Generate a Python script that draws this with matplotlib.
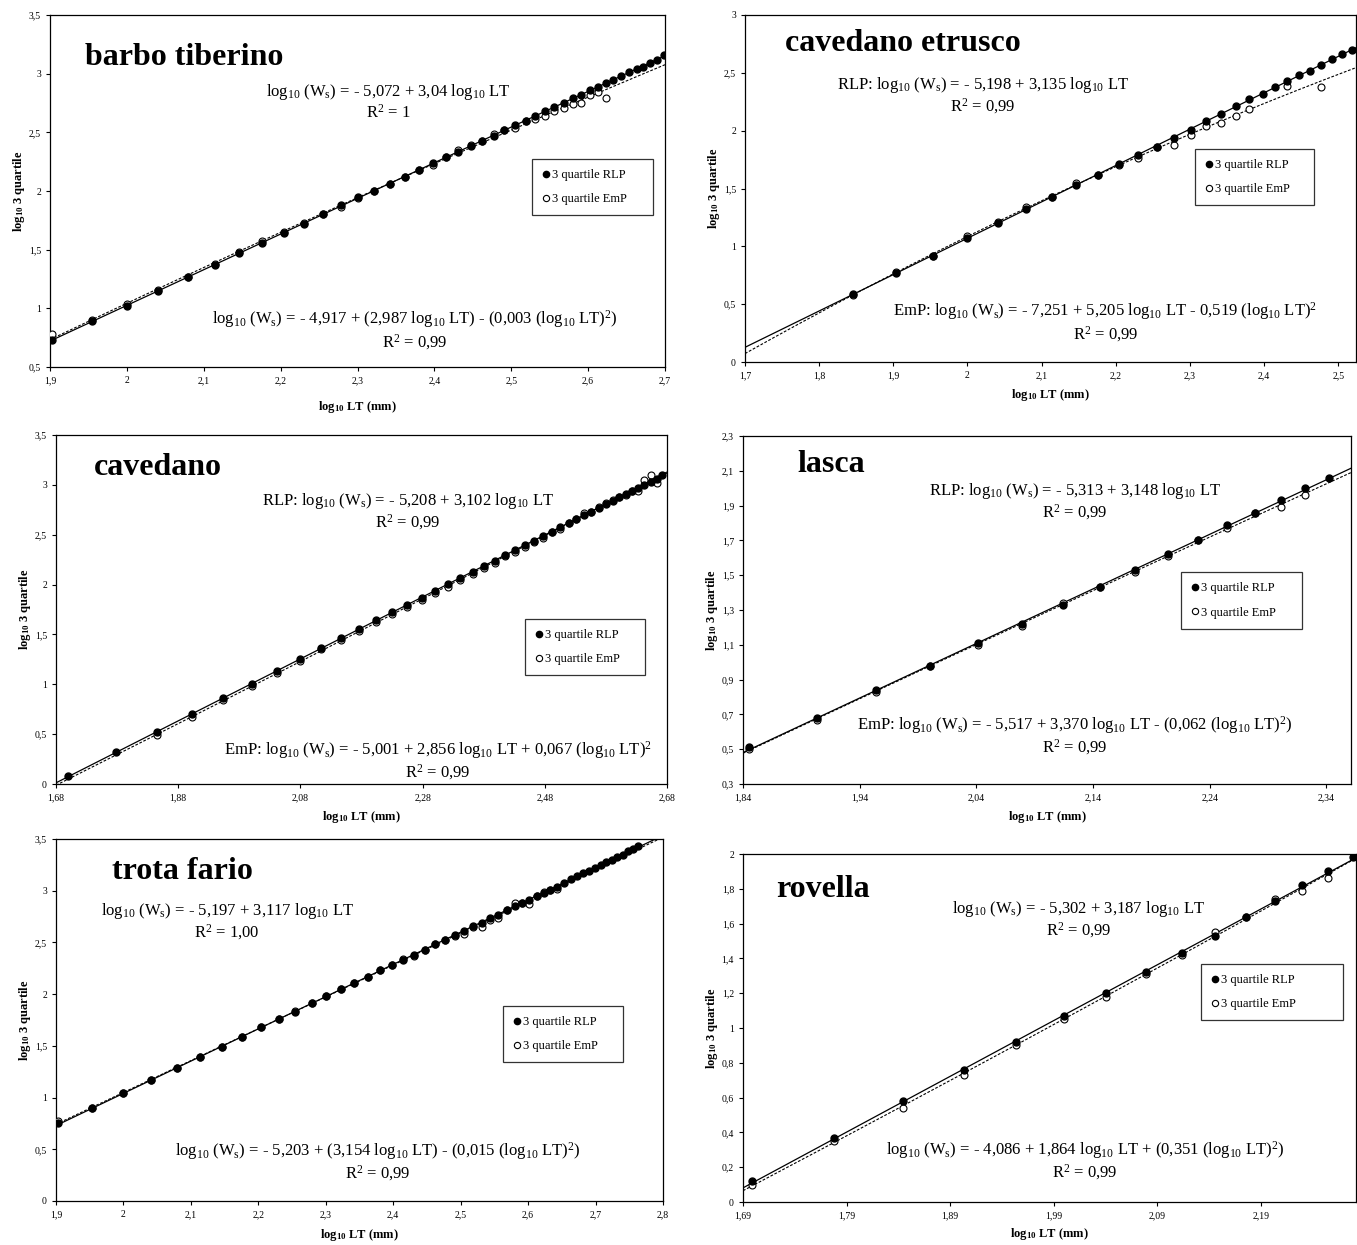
import numpy as np
import matplotlib
matplotlib.use('Agg')
import matplotlib.pyplot as plt

plt.rcParams['font.family'] = 'Liberation Serif'
plt.rcParams['mathtext.fontset'] = 'custom'
plt.rcParams['mathtext.rm'] = 'Liberation Serif'
plt.rcParams['mathtext.it'] = 'Liberation Serif:italic'
plt.rcParams['mathtext.bf'] = 'Liberation Serif:bold'

# ---- data (log10 LT, log10 3rd quartile) ----
# barbo tiberino
barbo_lt_rlp = [1.903, 1.954, 2.000, 2.041, 2.079, 2.114, 2.146, 2.176, 2.204, 2.230,
                2.255, 2.279, 2.301, 2.322, 2.342, 2.362, 2.380, 2.398, 2.415, 2.431,
                2.447, 2.462, 2.477, 2.491, 2.505, 2.519, 2.531, 2.544, 2.556, 2.568,
                2.580, 2.591, 2.602, 2.613, 2.623, 2.633, 2.643, 2.653, 2.663, 2.672,
                2.681, 2.690, 2.699]
barbo_rlp = [0.73, 0.89, 1.02, 1.15, 1.27, 1.37, 1.47, 1.56, 1.64, 1.72,
             1.80, 1.88, 1.95, 2.00, 2.06, 2.12, 2.18, 2.24, 2.29, 2.33,
             2.38, 2.43, 2.47, 2.52, 2.56, 2.60, 2.64, 2.68, 2.72, 2.75,
             2.79, 2.82, 2.86, 2.89, 2.92, 2.95, 2.98, 3.01, 3.04, 3.06,
             3.09, 3.12, 3.16]
barbo_lt_emp = barbo_lt_rlp[:35]
barbo_emp = [0.78, 0.90, 1.04, 1.16, 1.27, 1.38, 1.48, 1.57, 1.65, 1.73,
             1.80, 1.86, 1.94, 2.00, 2.06, 2.12, 2.18, 2.22, 2.29, 2.35,
             2.39, 2.43, 2.49, 2.52, 2.54, 2.60, 2.61, 2.64, 2.68, 2.71,
             2.74, 2.75, 2.82, 2.84, 2.79]

# cavedano etrusco
etr_lt_rlp = [1.845, 1.903, 1.954, 2.000, 2.041, 2.079, 2.114, 2.146, 2.176, 2.204,
              2.230, 2.255, 2.279, 2.301, 2.322, 2.342, 2.362, 2.380, 2.398, 2.415,
              2.431, 2.447, 2.462, 2.477, 2.491, 2.505, 2.519]
etr_rlp = [0.59, 0.77, 0.92, 1.07, 1.20, 1.32, 1.43, 1.53, 1.62, 1.71,
           1.79, 1.86, 1.94, 2.01, 2.08, 2.14, 2.21, 2.27, 2.32, 2.38,
           2.43, 2.48, 2.52, 2.57, 2.62, 2.66, 2.70]
etr_lt_emp = [1.845, 1.903, 1.954, 2.000, 2.041, 2.079, 2.114, 2.146, 2.176, 2.204,
              2.230, 2.255, 2.279, 2.301, 2.322, 2.342, 2.362, 2.380, 2.431, 2.477]
etr_emp = [0.58, 0.78, 0.92, 1.09, 1.21, 1.34, 1.43, 1.55, 1.62, 1.70,
           1.76, 1.86, 1.88, 1.96, 2.04, 2.07, 2.13, 2.19, 2.39, 2.38]

# cavedano
cav_lt_rlp = [1.699, 1.778, 1.845, 1.903, 1.954, 2.000, 2.041, 2.079, 2.114, 2.146,
              2.176, 2.204, 2.230, 2.255, 2.279, 2.301, 2.322, 2.342, 2.362, 2.380,
              2.398, 2.415, 2.431, 2.447, 2.462, 2.477, 2.491, 2.505, 2.519, 2.531,
              2.544, 2.556, 2.568, 2.580, 2.591, 2.602, 2.613, 2.623, 2.633, 2.643,
              2.653, 2.663, 2.672]
cav_rlp = [0.08, 0.32, 0.52, 0.70, 0.86, 1.00, 1.13, 1.25, 1.36, 1.46,
           1.55, 1.64, 1.72, 1.80, 1.87, 1.94, 2.01, 2.07, 2.13, 2.19,
           2.24, 2.30, 2.35, 2.40, 2.44, 2.49, 2.53, 2.58, 2.62, 2.66,
           2.70, 2.73, 2.77, 2.81, 2.84, 2.88, 2.91, 2.94, 2.97, 3.00,
           3.03, 3.06, 3.10]
cav_lt_emp = cav_lt_rlp[2:42]
cav_emp = [0.49, 0.67, 0.84, 0.98, 1.11, 1.23, 1.35, 1.44, 1.53, 1.62,
           1.70, 1.78, 1.85, 1.92, 1.98, 2.05, 2.11, 2.17, 2.22, 2.29,
           2.33, 2.38, 2.43, 2.47, 2.53, 2.56, 2.62, 2.66, 2.72, 2.73,
           2.78, 2.82, 2.85, 2.88, 2.90, 2.94, 2.94, 3.05, 3.10, 3.02]

# lasca
las_lt_rlp = [1.845, 1.903, 1.954, 2.000, 2.041, 2.079, 2.114, 2.146, 2.176, 2.204,
              2.230, 2.255, 2.279, 2.301, 2.322, 2.342]
las_rlp = [0.51, 0.68, 0.84, 0.98, 1.11, 1.22, 1.33, 1.43, 1.53, 1.62,
           1.70, 1.79, 1.86, 1.93, 2.00, 2.06]
las_lt_emp = las_lt_rlp[:15]
las_emp = [0.50, 0.67, 0.83, 0.98, 1.10, 1.21, 1.34, 1.43, 1.52, 1.61,
           1.70, 1.77, 1.86, 1.89, 1.96]

# trota fario
tro_lt_rlp = [1.903, 1.954, 2.000, 2.041, 2.079, 2.114, 2.146, 2.176, 2.204, 2.230,
              2.255, 2.279, 2.301, 2.322, 2.342, 2.362, 2.380, 2.398, 2.415, 2.431,
              2.447, 2.462, 2.477, 2.491, 2.505, 2.519, 2.531, 2.544, 2.556, 2.568,
              2.580, 2.591, 2.602, 2.613, 2.623, 2.633, 2.643, 2.653, 2.663, 2.672,
              2.681, 2.690, 2.699, 2.708, 2.716, 2.724, 2.732, 2.740, 2.748, 2.756,
              2.763]
tro_rlp = [0.75, 0.90, 1.04, 1.17, 1.29, 1.39, 1.49, 1.59, 1.68, 1.76,
           1.83, 1.91, 1.98, 2.05, 2.11, 2.17, 2.23, 2.28, 2.33, 2.38,
           2.43, 2.48, 2.52, 2.57, 2.61, 2.66, 2.69, 2.74, 2.77, 2.81,
           2.85, 2.88, 2.91, 2.95, 2.98, 3.01, 3.04, 3.07, 3.11, 3.14,
           3.17, 3.19, 3.22, 3.25, 3.28, 3.30, 3.33, 3.35, 3.38, 3.40,
           3.43]
tro_lt_emp = tro_lt_rlp[:37]
tro_emp = [0.77, 0.90, 1.04, 1.17, 1.29, 1.39, 1.49, 1.59, 1.68, 1.76,
           1.84, 1.91, 1.98, 2.05, 2.11, 2.17, 2.23, 2.28, 2.34, 2.37,
           2.43, 2.48, 2.52, 2.56, 2.58, 2.65, 2.65, 2.72, 2.74, 2.81,
           2.88, 2.88, 2.87, 2.95, 2.99, 3.01, 3.02]

# rovella
rov_lt_rlp = [1.699, 1.778, 1.845, 1.903, 1.954, 2.000, 2.041, 2.079, 2.114, 2.146,
              2.176, 2.204, 2.230, 2.255, 2.279]
rov_rlp = [0.12, 0.37, 0.58, 0.76, 0.92, 1.07, 1.20, 1.32, 1.43, 1.53,
           1.64, 1.73, 1.82, 1.90, 1.98]
rov_lt_emp = rov_lt_rlp[:14]
rov_emp = [0.10, 0.35, 0.54, 0.73, 0.90, 1.05, 1.18, 1.31, 1.42, 1.55,
           1.64, 1.74, 1.79, 1.86]

L10 = r'log$_{10}$'
WS = r'(W$_\mathrm{s}$)'

panels = [
    # box = axes in pixels (left, right, top, bottom); leg = legend box in axes fractions
    dict(name='barbo tiberino', data=(barbo_lt_rlp, barbo_rlp, barbo_lt_emp, barbo_emp),
         box=(50, 665, 15, 367), xlim=(1.9, 2.7), xstep=0.1, ylim=(0.5, 3.5), ystep=0.5,
         tpos=(0.057, 0.88), xpad=10,
         eq1=L10 + ' ' + WS + ' = - 5,072 + 3,04 ' + L10 + ' LT\nR$^2$ = 1', e1pos=(0.55, 0.753),
         eq2=L10 + ' ' + WS + ' = - 4,917 + (2,987 ' + L10 + ' LT) - (0,003 (' + L10 + ' LT)$^2$)\nR$^2$ = 0,99',
         e2pos=(0.593, 0.105), leg=(0.784, 0.98, 0.591)),
    dict(name='cavedano etrusco', data=(etr_lt_rlp, etr_rlp, etr_lt_emp, etr_emp),
         box=(745, 1356, 15, 362), xlim=(1.7, 2.524), xstep=0.1, ylim=(0, 3), ystep=0.5,
         tpos=(0.065, 0.919), xpad=5,
         eq1='RLP: ' + L10 + ' ' + WS + ' = - 5,198 + 3,135 ' + L10 + ' LT\nR$^2$ = 0,99', e1pos=(0.389, 0.769),
         eq2='EmP: ' + L10 + ' ' + WS + ' = - 7,251 + 5,205 ' + L10 + ' LT - 0,519 (' + L10 + ' LT)$^2$\nR$^2$ = 0,99',
         e2pos=(0.59, 0.115), leg=(0.737, 0.931, 0.614)),
    dict(name='cavedano', data=(cav_lt_rlp, cav_rlp, cav_lt_emp, cav_emp),
         box=(56, 667, 435, 784), xlim=(1.68, 2.68), xstep=0.2, ylim=(0, 3.5), ystep=0.5,
         tpos=(0.062, 0.908), xpad=5,
         eq1='RLP: ' + L10 + ' ' + WS + ' = - 5,208 + 3,102 ' + L10 + ' LT\nR$^2$ = 0,99', e1pos=(0.576, 0.782),
         eq2='EmP: ' + L10 + ' ' + WS + ' = - 5,001 + 2,856 ' + L10 + ' LT + 0,067 (' + L10 + ' LT)$^2$\nR$^2$ = 0,99',
         e2pos=(0.625, 0.066), leg=(0.768, 0.964, 0.473)),
    dict(name='lasca', data=(las_lt_rlp, las_rlp, las_lt_emp, las_emp),
         box=(743, 1351, 436, 784), xlim=(1.84, 2.361), xstep=0.1, ylim=(0.3, 2.3), ystep=0.2,
         tpos=(0.09, 0.917), xpad=5,
         eq1='RLP: ' + L10 + ' ' + WS + ' = - 5,313 + 3,148 ' + L10 + ' LT\nR$^2$ = 0,99', e1pos=(0.546, 0.813),
         eq2='EmP: ' + L10 + ' ' + WS + ' = - 5,517 + 3,370 ' + L10 + ' LT - (0,062 (' + L10 + ' LT)$^2$)\nR$^2$ = 0,99',
         e2pos=(0.546, 0.138), leg=(0.72, 0.92, 0.609)),
    dict(name='trota fario', data=(tro_lt_rlp, tro_rlp, tro_lt_emp, tro_emp),
         box=(56, 663, 839, 1201), xlim=(1.9, 2.8), xstep=0.1, ylim=(0, 3.5), ystep=0.5,
         tpos=(0.092, 0.909), xpad=6,
         eq1=L10 + ' ' + WS + ' = - 5,197 + 3,117 ' + L10 + ' LT\nR$^2$ = 1,00', e1pos=(0.282, 0.771),
         eq2=L10 + ' ' + WS + ' = - 5,203 + (3,154 ' + L10 + ' LT) - (0,015 (' + L10 + ' LT)$^2$)\nR$^2$ = 0,99',
         e2pos=(0.53, 0.108), leg=(0.736, 0.934, 0.539)),
    dict(name='rovella', data=(rov_lt_rlp, rov_rlp, rov_lt_emp, rov_emp),
         box=(743, 1356, 854, 1202), xlim=(1.69, 2.282), xstep=0.1, ylim=(0, 2), ystep=0.2,
         tpos=(0.054, 0.897), xpad=4,
         eq1=L10 + ' ' + WS + ' = - 5,302 + 3,187 ' + L10 + ' LT\nR$^2$ = 0,99', e1pos=(0.547, 0.813),
         eq2=L10 + ' ' + WS + ' = - 4,086 + 1,864 ' + L10 + ' LT + (0,351 (' + L10 + ' LT)$^2$)\nR$^2$ = 0,99',
         e2pos=(0.558, 0.118), leg=(0.747, 0.979, 0.684)),
]

W, H = 1357, 1245
fig = plt.figure(figsize=(W / 100, H / 100), dpi=100)


def fmt(v):
    s = ('%.2f' % v).rstrip('0').rstrip('.')
    return s.replace('.', ',')


for p in panels:
    l, r, t, b = p['box']
    ax = fig.add_axes([l / W, 1 - b / H, (r - l) / W, (b - t) / H])
    lt_rlp, rlp, lt_emp, emp = p['data']

    # trendlines (linear for RLP, quadratic for EmP) over the whole x range
    xx = np.linspace(p['xlim'][0], p['xlim'][1], 200)
    c1 = np.polyfit(lt_rlp, rlp, 1)
    c2 = np.polyfit(lt_emp, emp, 2)
    ax.plot(xx, np.polyval(c1, xx), color='black', lw=0.9, zorder=2)
    ax.plot(xx, np.polyval(c2, xx), color='black', lw=0.8, ls=(0, (2.5, 1.5)), zorder=2)

    ax.plot(lt_emp, emp, 'o', ms=5, mfc='white', mec='black', mew=0.8, zorder=3,
            label='3 quartile EmP')
    ax.plot(lt_rlp, rlp, 'o', ms=5, mfc='black', mec='black', zorder=4,
            label='3 quartile RLP')

    ax.set_xlim(p['xlim'])
    ax.set_ylim(p['ylim'])
    xt = np.arange(p['xlim'][0], p['xlim'][1] + 1e-6, p['xstep'])
    yt = np.arange(p['ylim'][0], p['ylim'][1] + 1e-6, p['ystep'])
    ax.set_xticks(xt)
    ax.set_xticklabels([fmt(v) for v in xt])
    ax.set_yticks(yt)
    ax.set_yticklabels([fmt(v) for v in yt])
    ax.tick_params(labelsize=7, direction='out', length=3, width=0.8)
    for s in ax.spines.values():
        s.set_linewidth(0.9)

    ax.set_xlabel(r'log$_{\mathbf{10}}$ LT (mm)', fontsize=9, fontweight='bold', labelpad=p['xpad'])
    ax.set_ylabel(r'log$_{\mathbf{10}}$ 3 quartile', fontsize=9, fontweight='bold', labelpad=1)

    ax.text(p['tpos'][0], p['tpos'][1], p['name'], transform=ax.transAxes,
            fontsize=23, fontweight='bold', ha='left', va='center')
    ax.text(p['e1pos'][0], p['e1pos'][1], p['eq1'], transform=ax.transAxes,
            fontsize=12, ha='center', va='center', linespacing=1.1)
    ax.text(p['e2pos'][0], p['e2pos'][1], p['eq2'], transform=ax.transAxes,
            fontsize=12, ha='center', va='center', linespacing=1.1)

    h, lab = ax.get_legend_handles_labels()
    ll, lr, ltop = p['leg']
    leg = ax.legend(h[::-1], lab[::-1], loc='upper left', bbox_to_anchor=(ll, ltop - 0.2, lr - ll, 0.2),
                    mode='expand', fontsize=9, frameon=True, fancybox=False, edgecolor='black',
                    handlelength=0.6, handletextpad=0.2, borderpad=0.8, labelspacing=1.0,
                    borderaxespad=0, markerscale=0.9)
    leg.get_frame().set_linewidth(0.9)

fig.savefig('out.png', dpi=100, facecolor='white')
